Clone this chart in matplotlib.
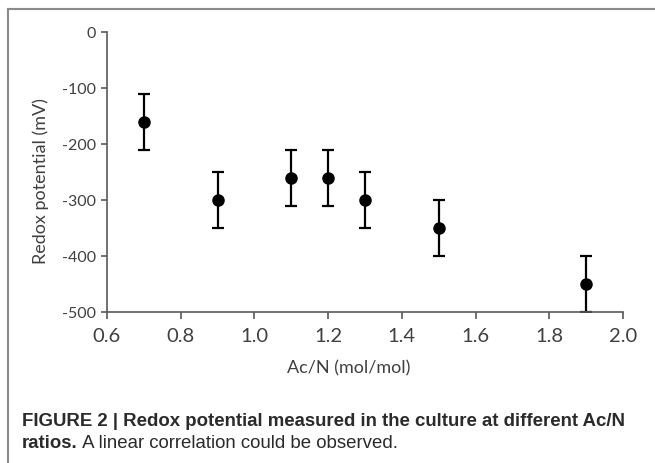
import matplotlib
matplotlib.use("Agg")
import matplotlib.pyplot as plt
from matplotlib.lines import Line2D

# data
ratio = [0.7, 0.9, 1.1, 1.2, 1.3, 1.5, 1.9]
redox = [-160, -300, -260, -260, -300, -350, -450]
redox_err = [50, 50, 50, 50, 50, 50, 50]

x_ticks = [0.6, 0.8, 1.0, 1.2, 1.4, 1.6, 1.8, 2.0]
y_ticks = [0, -100, -200, -300, -400, -500]

W, H = 655, 464
fig = plt.figure(figsize=(W / 100, H / 100), dpi=100)
fig.patch.set_facecolor("white")

ax = fig.add_axes([107 / W, 1 - 313 / H, (623 - 107) / W, (313 - 33) / H])
ax.errorbar(ratio, redox, yerr=redox_err, fmt="o", color="black",
            markersize=8, elinewidth=1.6, capsize=4, capthick=1.6)

ax.set_xlim(0.6, 2.0)
ax.set_ylim(-500, 0)
ax.set_xticks(x_ticks)
ax.set_xticklabels([f"{t:.1f}" for t in x_ticks])
ax.set_yticks(y_ticks)
ax.set_yticklabels([str(t) for t in y_ticks])

for s in ["top", "right"]:
    ax.spines[s].set_visible(False)
for s in ["left", "bottom"]:
    ax.spines[s].set_color("#595959")
    ax.spines[s].set_linewidth(1.2)

ax.tick_params(axis="x", direction="out", length=5, width=1.2, color="#595959",
               labelsize=14.5, labelcolor="#404040", pad=6)
ax.tick_params(axis="y", direction="out", length=4, width=1.2, color="#595959",
               labelsize=11.5, labelcolor="#404040", pad=4)
for lbl in ax.get_xticklabels() + ax.get_yticklabels():
    lbl.set_family("Lato")

ax.set_xlabel("Ac/N (mol/mol)", fontsize=13, color="#404040", family="Lato")
ax.set_ylabel("Redox potential (mV)", fontsize=13, color="#404040", family="Lato")
ax.xaxis.set_label_coords(0.469, -0.168)
ax.yaxis.set_label_coords(-0.113, 0.47)

# frame lines (top and left only)
fig.add_artist(Line2D([8 / W, 1], [1 - 10 / H, 1 - 10 / H], transform=fig.transFigure,
                      color="#8a8a8a", linewidth=1.5))
fig.add_artist(Line2D([8 / W, 8 / W], [0, 1 - 10 / H], transform=fig.transFigure,
                      color="#8a8a8a", linewidth=1.5))

# caption
cap_color = "#2b2b2b"
fig.text(22 / W, 1 - 426 / H, "FIGURE 2 | Redox potential measured in the culture at different Ac/N",
         fontsize=13.4, fontweight="bold", family="Liberation Sans", color=cap_color, va="baseline")
t1 = fig.text(22 / W, 1 - 448 / H, "ratios.", fontsize=13.4, fontweight="bold",
              family="Liberation Sans", color=cap_color, va="baseline")
fig.canvas.draw()
bb = t1.get_window_extent(renderer=fig.canvas.get_renderer())
fig.text(bb.x1 / W, 1 - 448 / H, " A linear correlation could be observed.", fontsize=13.4,
         family="Liberation Sans", color=cap_color, va="baseline")

fig.savefig("out.png", dpi=100)
